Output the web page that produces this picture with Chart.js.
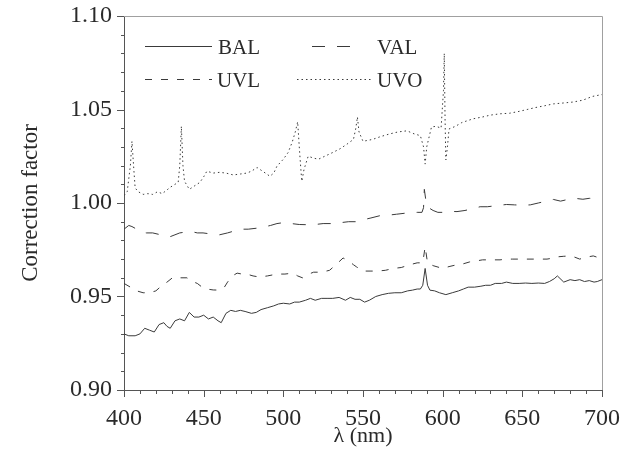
<!DOCTYPE html>
<html>
<head>
<meta charset="utf-8">
<script src="https://cdn.jsdelivr.net/npm/chart.js@4.4.1/dist/chart.umd.min.js"></script>
<style>
  html, body { margin: 0; padding: 0; background: #fff; }
  canvas { display: block; }
</style>
</head>
<body>
<canvas id="chart" width="622" height="465"></canvas>
<script>
// wavelength (nm) and correction factor values
const balX = [400, 403, 407, 410, 413, 416, 419, 422, 425, 427, 429, 432, 435, 438, 441, 444, 447, 450, 453, 456, 459, 461, 464, 467, 470, 473, 476, 480, 483, 486, 490, 494, 497, 500, 504, 507, 510, 514, 517, 520, 524, 528, 531, 535, 539, 542, 545, 548, 551, 554, 558, 562, 566, 570, 574, 578, 581, 584, 586, 587.5, 589, 590.5, 592, 595, 598, 602, 606, 610, 613, 616, 620, 624, 627, 630, 633, 637, 640, 644, 648, 652, 656, 660, 664, 667, 670, 672, 676, 680, 683, 686, 689, 692, 695, 697, 700];
const balY = [0.930, 0.929, 0.929, 0.930, 0.933, 0.932, 0.931, 0.935, 0.936, 0.934, 0.933, 0.937, 0.938, 0.937, 0.9415, 0.939, 0.939, 0.940, 0.938, 0.939, 0.937, 0.936, 0.941, 0.9426, 0.942, 0.9426, 0.942, 0.941, 0.9415, 0.943, 0.944, 0.945, 0.946, 0.9464, 0.946, 0.947, 0.947, 0.948, 0.949, 0.948, 0.949, 0.949, 0.949, 0.9495, 0.948, 0.9495, 0.9485, 0.9485, 0.947, 0.948, 0.950, 0.951, 0.9517, 0.952, 0.952, 0.953, 0.9534, 0.954, 0.954, 0.956, 0.965, 0.956, 0.9534, 0.953, 0.952, 0.951, 0.952, 0.953, 0.954, 0.955, 0.955, 0.9555, 0.956, 0.956, 0.957, 0.957, 0.9577, 0.957, 0.957, 0.9572, 0.957, 0.9572, 0.957, 0.958, 0.9595, 0.961, 0.9577, 0.959, 0.9585, 0.959, 0.958, 0.9585, 0.9577, 0.958, 0.959];

const valX = [400, 403, 405, 408, 410, 414, 418, 423, 427, 429, 432, 435, 439, 443, 446, 449.6, 454, 460, 465, 469, 473, 478, 483, 487, 492, 496, 500, 505, 510, 515, 520, 525, 531, 536, 541, 546, 550, 555, 561, 566, 571, 576, 579.5, 584, 587, 588, 588.5, 590, 591, 594, 597, 601, 605, 609, 614, 619, 623.5, 628, 633, 640, 645, 650, 655, 660, 665, 669.5, 674, 679, 684, 688, 692, 697, 700];
const valY = [0.986, 0.988, 0.9874, 0.986, 0.9846, 0.984, 0.984, 0.983, 0.982, 0.982, 0.983, 0.984, 0.9845, 0.9846, 0.984, 0.984, 0.9835, 0.983, 0.984, 0.985, 0.986, 0.986, 0.9865, 0.987, 0.988, 0.989, 0.9895, 0.989, 0.9885, 0.9884, 0.9885, 0.989, 0.989, 0.9895, 0.990, 0.990, 0.991, 0.992, 0.9933, 0.9935, 0.994, 0.9945, 0.9949, 0.995, 0.995, 0.9975, 1.0073, 0.998, 0.9976, 0.996, 0.995, 0.995, 0.9955, 0.9954, 0.996, 0.997, 0.998, 0.998, 0.9985, 0.9992, 0.999, 0.9988, 0.999, 1.000, 1.001, 1.0019, 1.001, 1.002, 1.0024, 1.002, 1.0025, 1.0024, 1.003];

const uvlX = [400, 404, 408, 412, 416, 420, 424, 427, 431, 435, 439.5, 443, 446, 449, 452, 456, 460, 463, 465, 468, 471, 474, 477, 481, 485, 490, 496, 501, 506, 509, 512, 516, 519, 524, 529, 533, 537.5, 541, 544, 546, 550, 555, 559, 564, 569, 574, 579.5, 584, 587.5, 589, 590.5, 594, 600, 604, 609, 613, 617, 621, 625, 630, 636, 640, 644, 650, 657, 661, 665.5, 669, 672, 676, 680, 683, 686, 690, 694.5, 697, 700];
const uvlY = [0.957, 0.955, 0.953, 0.952, 0.952, 0.953, 0.956, 0.9577, 0.9604, 0.960, 0.960, 0.958, 0.957, 0.955, 0.954, 0.9535, 0.9534, 0.955, 0.9577, 0.961, 0.9625, 0.962, 0.962, 0.961, 0.9604, 0.961, 0.962, 0.962, 0.9625, 0.961, 0.960, 0.962, 0.963, 0.963, 0.964, 0.967, 0.9706, 0.969, 0.967, 0.9658, 0.9636, 0.9636, 0.9636, 0.964, 0.965, 0.9655, 0.967, 0.968, 0.968, 0.9766, 0.968, 0.9665, 0.965, 0.966, 0.967, 0.9675, 0.9685, 0.969, 0.9696, 0.9696, 0.9696, 0.970, 0.970, 0.970, 0.970, 0.970, 0.970, 0.9705, 0.9712, 0.9715, 0.9717, 0.971, 0.970, 0.971, 0.9717, 0.971, 0.970];

const uvoX = [400, 402, 404, 405, 406, 407, 409, 412, 415, 418, 421, 424, 427, 429, 432, 434, 435, 436, 437, 438, 441, 444, 447.6, 450, 452, 456, 460, 464, 468.6, 473, 477, 480, 483.5, 487, 491.6, 494, 496, 500, 503, 505.6, 507.5, 509, 510, 511, 511.6, 513, 515.6, 519, 522, 526, 531, 535.6, 540, 544, 545.5, 546.5, 547.5, 550, 556, 561, 567, 572, 577.6, 582, 586, 588, 589, 590, 593, 596, 599, 600.5, 601, 601.5, 602, 603, 604, 608, 612, 619, 625, 630, 636, 642, 648, 653, 658, 664, 669.5, 676, 682, 688, 694, 700];
const uvoY = [1.004, 1.006, 1.020, 1.033, 1.020, 1.008, 1.006, 1.0046, 1.005, 1.0046, 1.006, 1.005, 1.007, 1.0084, 1.010, 1.011, 1.020, 1.041, 1.020, 1.0116, 1.0073, 1.009, 1.011, 1.014, 1.017, 1.016, 1.0164, 1.016, 1.015, 1.0155, 1.016, 1.017, 1.019, 1.017, 1.0143, 1.016, 1.0197, 1.0234, 1.027, 1.0326, 1.038, 1.0434, 1.030, 1.018, 1.0116, 1.018, 1.025, 1.024, 1.0234, 1.025, 1.027, 1.029, 1.0315, 1.034, 1.040, 1.046, 1.038, 1.033, 1.034, 1.0355, 1.037, 1.038, 1.0386, 1.037, 1.036, 1.030, 1.0208, 1.030, 1.0407, 1.041, 1.040, 1.060, 1.080, 1.045, 1.023, 1.030, 1.0396, 1.041, 1.043, 1.045, 1.046, 1.047, 1.0477, 1.048, 1.049, 1.050, 1.051, 1.052, 1.053, 1.0535, 1.054, 1.055, 1.057, 1.058];

const xTicks = [400, 450, 500, 550, 600, 650, 700];
const yTicks = [0.90, 0.95, 1.00, 1.05, 1.10];

const serif = "'Liberation Serif', 'Times New Roman', serif";
const ink = "#2a2a2a";

function pts(xs, ys) {
  return xs.map((x, i) => ({ x: x, y: ys[i] }));
}

// outward tick marks (major + minor) and the thin top/right border
const frameTicks = {
  id: "frameTicks",
  afterDraw(chart) {
    const { ctx, chartArea: a, scales: { x, y } } = chart;
    ctx.save();
    ctx.strokeStyle = "#a0a0a0";
    ctx.lineWidth = 1;
    ctx.beginPath();
    ctx.moveTo(a.left, a.top + 0.5);
    ctx.lineTo(a.right + 0.5, a.top + 0.5);
    ctx.lineTo(a.right + 0.5, a.bottom);
    ctx.stroke();

    ctx.strokeStyle = "#555";
    ctx.beginPath();
    for (let v = 400; v <= 700; v += 10) {
      const px = Math.round(x.getPixelForValue(v)) + 0.5;
      const len = v % 50 === 0 ? 7 : 4;
      ctx.moveTo(px, a.bottom);
      ctx.lineTo(px, a.bottom + len);
    }
    for (let i = 0; i <= 20; i++) {
      const v = 0.90 + i * 0.01;
      const py = Math.round(y.getPixelForValue(v)) + 0.5;
      const len = i % 5 === 0 ? 7 : 3;
      ctx.moveTo(a.left - len, py);
      ctx.lineTo(a.left, py);
    }
    ctx.stroke();
    ctx.restore();
  }
};

// legend inside the plot, two rows of two
const legendSlots = [
  { x0: 145, x1: 212, tx: 218, y: 46 },
  { x0: 312, x1: 350, tx: 377, y: 46 },
  { x0: 145, x1: 212, tx: 217, y: 79 },
  { x0: 297, x1: 372, tx: 377, y: 79 }
];
const insideLegend = {
  id: "insideLegend",
  afterDraw(chart) {
    const { ctx } = chart;
    ctx.save();
    ctx.font = "21px " + serif;
    ctx.textBaseline = "middle";
    chart.data.datasets.forEach((ds, i) => {
      const s = legendSlots[i];
      ctx.strokeStyle = ds.borderColor;
      ctx.lineWidth = 1;
      ctx.setLineDash(ds.borderDash || []);
      ctx.beginPath();
      ctx.moveTo(s.x0, s.y + 0.5);
      ctx.lineTo(s.x1, s.y + 0.5);
      ctx.stroke();
      ctx.setLineDash([]);
      ctx.fillStyle = ink;
      ctx.fillText(ds.label, s.tx, s.y + 2);
    });
    ctx.restore();
  }
};

const ctx = document.getElementById("chart").getContext("2d");

const chart = new Chart(ctx, {
  type: "line",
  data: {
    datasets: [
      { label: "BAL", data: pts(balX, balY), borderDash: [] },
      { label: "VAL", data: pts(valX, valY), borderDash: [13, 12] },
      { label: "UVL", data: pts(uvlX, uvlY), borderDash: [7, 9] },
      { label: "UVO", data: pts(uvoX, uvoY), borderDash: [1.5, 3] }
    ].map(ds => Object.assign(ds, {
      borderColor: "#3a3a3a",
      borderWidth: 1,
      pointRadius: 0,
      tension: 0,
      fill: false
    }))
  },
  options: {
    responsive: false,
    animation: false,
    devicePixelRatio: 1,
    layout: { padding: { top: 16, right: 20, left: 0, bottom: 0 } },
    plugins: {
      legend: { display: false },
      tooltip: { enabled: false }
    },
    scales: {
      x: {
        type: "linear",
        min: 400,
        max: 700,
        afterBuildTicks: (s) => { s.ticks = xTicks.map(v => ({ value: v })); },
        afterFit: (s) => { s.height = 75; s.paddingLeft = 0; s.paddingRight = 0; },
        ticks: {
          font: { family: serif, size: 24 },
          color: ink,
          padding: 14,
          callback: (v) => String(v)
        },
        grid: { display: false, drawTicks: false },
        border: { display: true, color: "#555", width: 1 },
        title: {
          display: true,
          text: "λ (nm)",
          font: { family: serif, size: 22 },
          color: ink,
          padding: { bottom: 16 }
        }
      },
      y: {
        type: "linear",
        min: 0.90,
        max: 1.10,
        afterBuildTicks: (s) => { s.ticks = yTicks.map(v => ({ value: v })); },
        afterFit: (s) => { s.width = 124; s.paddingTop = 0; s.paddingBottom = 0; },
        ticks: {
          font: { family: serif, size: 24 },
          color: ink,
          padding: 12,
          callback: (v) => Number(v).toFixed(2)
        },
        grid: { display: false, drawTicks: false },
        border: { display: true, color: "#555", width: 1 },
        title: {
          display: true,
          text: "Correction factor",
          font: { family: serif, size: 23 },
          color: ink,
          padding: { top: 17 }
        }
      }
    }
  },
  plugins: [frameTicks, insideLegend]
});
</script>
</body>
</html>
